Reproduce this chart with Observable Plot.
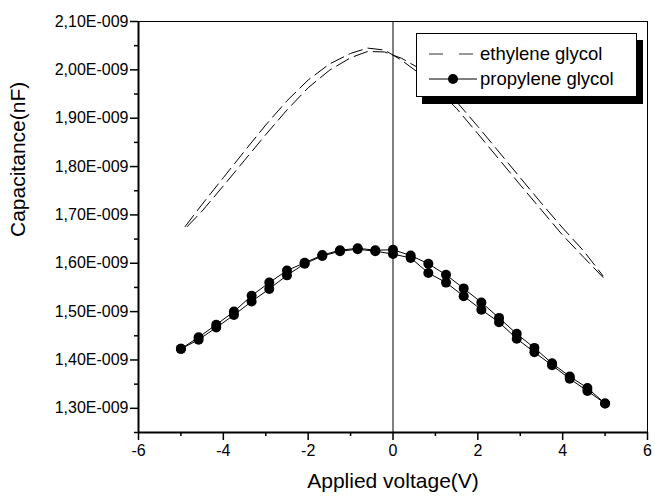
<!DOCTYPE html>
<html><head><meta charset="utf-8">
<script src="https://cdn.jsdelivr.net/npm/d3@7"></script>
<script src="https://cdn.jsdelivr.net/npm/@observablehq/plot@0.6"></script>
<style>
body{margin:0;background:#fff;font-family:"Liberation Sans",Arial,sans-serif;}
#wrap{position:relative;width:655px;height:499px;}
#legend{position:absolute;left:416px;top:33px;width:221px;height:64px;border:1px solid #000;background:#fff;box-shadow:6px 7px 0 #000;box-sizing:border-box;}
.row{position:absolute;left:0;height:24px;width:220px;font-size:18.5px;color:#000;}
.row svg{position:absolute;left:12px;top:0;}
.row span{position:absolute;left:63px;top:2px;line-height:20px;white-space:nowrap;}
</style></head>
<body><div id="wrap"><div id="chart"></div><div id="legend"></div></div>
<script>
// Ethylene glycol: two sweeps (dashed)
const ethXA = [-4.9, -4.5, -4, -3.5, -3, -2.5, -2, -1.5, -1, -0.6, -0.2, 0.2, 0.6, 1, 1.5, 2, 2.5, 3, 3.5, 4, 4.5, 4.95];
const ethYA = [1.676, 1.722, 1.777, 1.832, 1.886, 1.936, 1.979, 2.012, 2.034, 2.045, 2.041, 2.020, 1.994, 1.964, 1.920, 1.868, 1.815, 1.762, 1.710, 1.658, 1.612, 1.571];
const ethXB = [-4.85, -4.5, -4, -3.5, -3, -2.5, -2, -1.5, -1, -0.6, -0.2, 0.2, 0.6, 1, 1.5, 2, 2.5, 3, 3.5, 4, 4.5, 4.95];
const ethYB = [1.676, 1.708, 1.760, 1.813, 1.866, 1.917, 1.963, 1.999, 2.025, 2.038, 2.037, 2.024, 2.004, 1.977, 1.934, 1.883, 1.830, 1.777, 1.724, 1.673, 1.625, 1.574];

// Propylene glycol: two sweeps (line + filled circles)
const propX = [-5, -4.583, -4.167, -3.75, -3.333, -2.917, -2.5, -2.083, -1.667, -1.25, -0.833, -0.417, 0, 0.417, 0.833, 1.25, 1.667, 2.083, 2.5, 2.917, 3.333, 3.75, 4.167, 4.583, 5];
const propYA = [1.423, 1.447, 1.473, 1.500, 1.533, 1.560, 1.585, 1.601, 1.617, 1.627, 1.631, 1.627, 1.628, 1.616, 1.599, 1.576, 1.548, 1.519, 1.487, 1.454, 1.425, 1.393, 1.366, 1.342, 1.310];
const propYB = [1.423, 1.442, 1.467, 1.493, 1.521, 1.547, 1.575, 1.599, 1.615, 1.625, 1.629, 1.625, 1.619, 1.611, 1.580, 1.560, 1.532, 1.504, 1.478, 1.444, 1.416, 1.389, 1.361, 1.336, 1.310];

const xMajor = [-6, -4, -2, 0, 2, 4, 6];
const xMinor = [-5, -3, -1, 1, 3, 5];
const yMajor = [1.30, 1.40, 1.50, 1.60, 1.70, 1.80, 1.90, 2.00, 2.10];
const yMinor = [1.25, 1.35, 1.45, 1.55, 1.65, 1.75, 1.85, 1.95, 2.05];
const seriesNames = ["ethylene glycol", "propylene glycol"];
const xTitle = "Applied voltage(V)";
const yTitle = "Capacitance(nF)";

const ethA = ethXA.map((x, i) => ({x, y: ethYA[i]}));
const ethB = ethXB.map((x, i) => ({x, y: ethYB[i]}));
const propA = propX.map((x, i) => ({x, y: propYA[i]}));
const propB = propX.map((x, i) => ({x, y: propYB[i]}));

const fmtY = d => d.toFixed(2).replace(".", ",") + "E-009";
const font = "Liberation Sans, Arial, sans-serif";

const chart = Plot.plot({
  width: 655,
  height: 499,
  marginLeft: 138,
  marginRight: 8,
  marginTop: 21,
  marginBottom: 67,
  style: {fontFamily: font, background: "#fff", color: "#000"},
  x: {domain: [-6, 6]},
  y: {domain: [1.25, 2.10]},
  marks: [
    Plot.axisX({ticks: xMajor, tickSize: 8, tickPadding: 4, fontSize: 16, label: null, tickFormat: d => String(d), strokeWidth: 1.5}),
    Plot.axisX({ticks: xMinor, tickSize: 4, tickFormat: () => "", label: null, strokeWidth: 1.5}),
    Plot.axisY({ticks: yMajor, tickSize: 8, tickPadding: 2, fontSize: 16, label: null, tickFormat: fmtY, strokeWidth: 1.5}),
    Plot.axisY({ticks: yMinor, tickSize: 4, tickFormat: () => "", label: null, strokeWidth: 1.5}),
    Plot.ruleY([2.10], {stroke: "#000", strokeWidth: 1}),
    Plot.ruleX([6], {stroke: "#000", strokeWidth: 1}),
    Plot.ruleX([-6], {stroke: "#000", strokeWidth: 2}),
    Plot.ruleY([1.25], {stroke: "#000", strokeWidth: 2}),
    Plot.ruleX([0], {stroke: "#000", strokeWidth: 1}),
    Plot.line(ethA, {x: "x", y: "y", stroke: "#000", strokeWidth: 1, strokeDasharray: "14,6"}),
    Plot.line(ethB, {x: "x", y: "y", stroke: "#000", strokeWidth: 1, strokeDasharray: "14,6"}),
    Plot.line(propA, {x: "x", y: "y", stroke: "#000", strokeWidth: 1}),
    Plot.line(propB, {x: "x", y: "y", stroke: "#000", strokeWidth: 1}),
    Plot.dot(propA, {x: "x", y: "y", r: 5, fill: "#000", stroke: "none"}),
    Plot.dot(propB, {x: "x", y: "y", r: 5, fill: "#000", stroke: "none"}),
    Plot.text([xTitle], {frameAnchor: "bottom", dy: 55, fontSize: 21, text: d => d}),
    Plot.text([yTitle], {frameAnchor: "left", dx: -120, dy: 10, rotate: -90, fontSize: 21, text: d => d})
  ]
});
document.getElementById("chart").appendChild(chart);

// Legend
const legend = document.getElementById("legend");
const rows = [
  {name: seriesNames[0], top: 8, sample: '<svg width="50" height="24"><line x1="0" y1="12" x2="48" y2="12" stroke="#777" stroke-width="1.5" stroke-dasharray="14,16"/></svg>'},
  {name: seriesNames[1], top: 33, sample: '<svg width="50" height="24"><line x1="0" y1="12" x2="48" y2="12" stroke="#000" stroke-width="1"/><circle cx="24" cy="12" r="5" fill="#000"/></svg>'}
];
rows.forEach(r => {
  const div = document.createElement("div");
  div.className = "row";
  div.style.top = r.top + "px";
  div.innerHTML = r.sample;
  const s = document.createElement("span");
  s.textContent = r.name;
  div.appendChild(s);
  legend.appendChild(div);
});
</script>
</body></html>
